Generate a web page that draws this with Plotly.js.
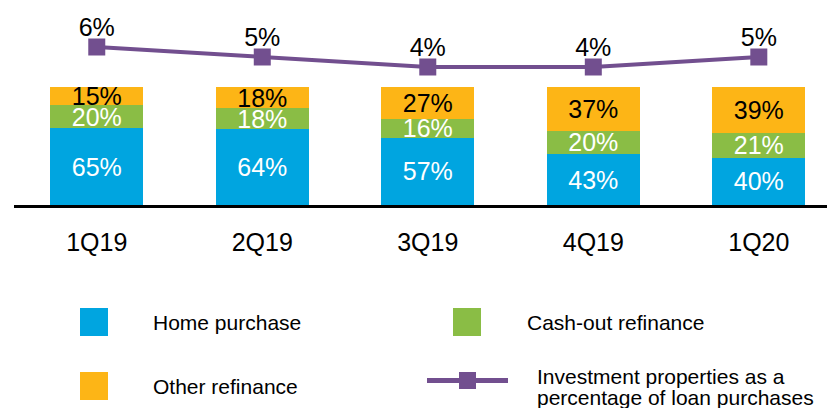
<!DOCTYPE html>
<html>
<head>
<meta charset="utf-8">
<script src="https://cdn.plot.ly/plotly-3.0.1.min.js"></script>
<style>
html,body{margin:0;padding:0;background:#fff;}
#chart{width:827px;height:408px;}
</style>
</head>
<body>
<div id="chart"></div>
<script>
var quarters = ["1Q19", "2Q19", "3Q19", "4Q19", "1Q20"];
var homePurchase = [65, 64, 57, 43, 40];
var cashOutRefi = [20, 18, 16, 20, 21];
var otherRefi = [15, 18, 27, 37, 39];
var investmentShare = [6, 5, 4, 4, 5];

var seriesNames = ["Home purchase", "Cash-out refinance", "Other refinance",
  "Investment properties as a", "percentage of loan purchases"];

var BLUE = "#00a5e0", GREEN = "#8abd45", ORANGE = "#fdb516", PURPLE = "#724f8f";
var FONT = "Arial, 'Liberation Sans', sans-serif";

var W = 827, H = 408, ML = 14, PLOT_BOTTOM = 205;
function px(x){ return (x - ML) / (W - ML); }
function py(y){ return (PLOT_BOTTOM - y) / PLOT_BOTTOM; }

function pct(a){ return a.map(function(v){ return v + "%"; }); }

function barTrace(name, vals, color, txtColor){
  return {
    type: "bar", name: name, x: quarters, y: vals,
    marker: {color: color, line: {width: 0}},
    text: pct(vals), textposition: "inside", insidetextanchor: "middle",
    textangle: 0, constraintext: "none",
    textfont: {family: FONT, size: 25, color: txtColor},
    hoverinfo: "skip", showlegend: false
  };
}

var traces = [
  barTrace(seriesNames[0], homePurchase, BLUE, "#ffffff"),
  barTrace(seriesNames[1], cashOutRefi, GREEN, "#ffffff"),
  barTrace(seriesNames[2], otherRefi, ORANGE, "#000000"),
  {
    type: "scatter", mode: "lines+markers", name: seriesNames[3],
    x: quarters, y: investmentShare, yaxis: "y2",
    line: {color: PURPLE, width: 4},
    marker: {symbol: "square", size: 17, color: PURPLE},
    cliponaxis: false, hoverinfo: "skip", showlegend: false
  },
  {
    type: "scatter", mode: "markers+text", name: "labels",
    x: quarters, y: investmentShare, yaxis: "y2",
    marker: {size: 6, color: "rgba(0,0,0,0)"},
    text: pct(investmentShare), textposition: "top center",
    textfont: {family: FONT, size: 25, color: "#000000"},
    cliponaxis: false, hoverinfo: "skip", showlegend: false
  }
];

var shapes = [], annotations = [];
function legendSquare(x0, y0, color){
  shapes.push({type: "rect", xref: "paper", yref: "paper",
    x0: px(x0), x1: px(x0 + 28), y0: py(y0), y1: py(y0 + 28),
    fillcolor: color, line: {width: 0}});
}
function legendText(x, yMid, txt){
  annotations.push({xref: "paper", yref: "paper", x: px(x), y: py(yMid),
    xanchor: "left", yanchor: "middle", showarrow: false, text: txt,
    font: {family: FONT, size: 21, color: "#000000"}});
}
legendSquare(80, 308, BLUE);   legendText(151, 322, seriesNames[0]);
legendSquare(453, 308, GREEN); legendText(525, 322, seriesNames[1]);
legendSquare(80, 372, ORANGE); legendText(151, 386, seriesNames[2]);
shapes.push({type: "line", xref: "paper", yref: "paper",
  x0: px(427), x1: px(508), y0: py(380.5), y1: py(380.5),
  line: {color: PURPLE, width: 5}});
shapes.push({type: "rect", xref: "paper", yref: "paper",
  x0: px(459), x1: px(476), y0: py(372), y1: py(389),
  fillcolor: PURPLE, line: {width: 0}});
legendText(535, 377, seriesNames[3]);
legendText(535, 397, seriesNames[4]);

var layout = {
  width: W, height: H,
  margin: {l: ML, r: 0, t: 0, b: H - PLOT_BOTTOM},
  paper_bgcolor: "#ffffff", plot_bgcolor: "#ffffff",
  barmode: "stack", bargap: 0.438,
  showlegend: false,
  font: {family: FONT, color: "#000000"},
  xaxis: {
    type: "category", range: [-0.5, 4.412],
    showline: true, linecolor: "#000000", linewidth: 2.5,
    showgrid: false, zeroline: false, ticks: "",
    tickfont: {family: FONT, size: 25, color: "#000000"},
    ticklabelstandoff: 13, fixedrange: true
  },
  yaxis: {
    range: [0, 100 * 205 / 118], visible: false, showgrid: false,
    zeroline: false, fixedrange: true
  },
  yaxis2: {
    range: [-9.8, 10.7], overlaying: "y", side: "right", visible: false,
    showgrid: false, zeroline: false, fixedrange: true
  },
  shapes: shapes,
  annotations: annotations
};

Plotly.newPlot("chart", traces, layout, {displayModeBar: false, staticPlot: true});
</script>
</body>
</html>
